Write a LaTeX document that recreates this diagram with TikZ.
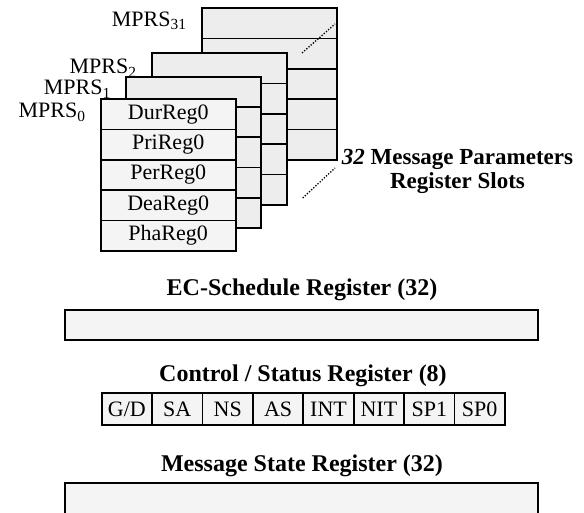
\documentclass[tikz,border=0pt]{standalone}
\usepackage{fontspec}
\setmainfont{Liberation Serif}
\usetikzlibrary{positioning}

\tikzset{
    regcell/.style={draw, line width=1.8pt, fill=gray!9, inner sep=0pt, outer sep=0pt,
        minimum width=135pt, minimum height=30.3pt,
        font=\fontsize{22}{22}\selectfont},
    backcell/.style={regcell, fill=gray!14},
    bitcell/.style={regcell, minimum width=50.4pt, minimum height=31.7pt},
    widereg/.style={regcell, minimum width=473pt},
    title/.style={anchor=base, inner sep=0pt, font=\bfseries\fontsize{24}{24}\selectfont},
    slotlabel/.style={anchor=base east, inner sep=0pt, font=\fontsize{22}{22}\selectfont},
}

\begin{document}
\begin{tikzpicture}[x=1pt, y=-1pt]
        \useasboundingbox (0,0) rectangle (584,513);

        % back stacks, drawn back to front
        \foreach \s/\x/\y in {31/201.7/8.3, 2/151.7/53.3, 1/126/76.7} {
            \node[backcell, anchor=north west] (s\s r1) at (\x,\y) {};
            \foreach \r [count=\p from 1] in {2,...,5}
                \node[backcell, below=0pt of s\s r\p] (s\s r\r) {};
        }

        % front stack
        \node[regcell, anchor=north west] (dur) at (100.7,99.3) {DurReg0};
        \node[regcell, below=0pt of dur] (pri) {PriReg0};
        \node[regcell, below=0pt of pri] (per) {PerReg0};
        \node[regcell, below=0pt of per] (dea) {DeaReg0};
        \node[regcell, below=0pt of dea] (pha) {PhaReg0};

        \node[slotlabel] (lbl31) at (186.7,26.7) {MPRS\textsubscript{31}};
        \node[slotlabel] (lbl2) at (136.7,74) {MPRS\textsubscript{2}};
        \node[slotlabel] (lbl1) at (111,95) {MPRS\textsubscript{1}};
        \node[slotlabel] (lbl0) at (85.7,118) {MPRS\textsubscript{0}};

        % dots between MPRS2 and MPRS31
        \coordinate (dota) at (302,53);
        \coordinate (dotb) at (335,24);
        \coordinate (dotc) at (302.7,198);
        \coordinate (dotd) at (335,168);
        \draw[line width=1.3pt, dash pattern=on 1.3pt off 1.6pt] (dota) -- (dotb);
        \draw[line width=1.3pt, dash pattern=on 1.3pt off 1.6pt] (dotc) -- (dotd);

        \node[anchor=base, align=center, inner sep=0pt,
            font=\bfseries\fontsize{23}{23.4}\selectfont] (slots) at (457.5,188.3)
            {\textit{32} Message Parameters\\Register Slots};

        % EC-Schedule register
        \node[title] (ectitle) at (302,296) {EC-Schedule Register (32)};
        \node[widereg, anchor=north west] (ecreg) at (65,310) {};

        % control / status register
        \node[title] (cstitle) at (303,381.7) {Control / Status Register (8)};
        \node[bitcell, anchor=north west] (b1) at (101.7,393.3) {G/D};
        \foreach \t [count=\i from 2, count=\j from 1] in {SA,NS,AS,INT,NIT,SP1,SP0}
            \node[bitcell, right=0pt of b\j] (b\i) {\t};

        % message state register
        \node[title] (mstitle) at (302,471.7) {Message State Register (32)};
        \node[widereg, anchor=north west, minimum height=45pt] (msreg) at (65,483.3) {};

    \end{tikzpicture}
\end{document}
